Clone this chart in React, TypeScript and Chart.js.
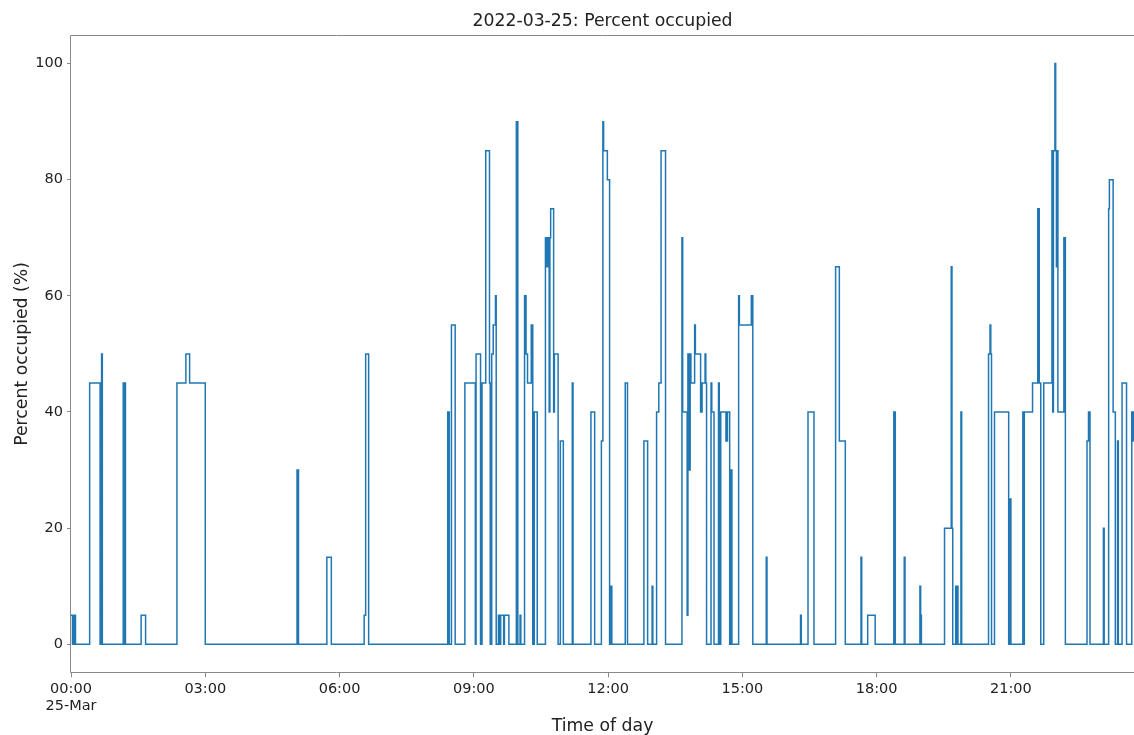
import React, { useEffect, useRef } from "react";
import { Chart, registerables } from "chart.js";

Chart.register(...registerables);

// ---- data ----
const chartTitle = "2022-03-25: Percent occupied";
const xAxisTitle = "Time of day";
const yAxisTitle = "Percent occupied (%)";
const dayLabel = "25-Mar";

// times at which the occupancy level changes, and the level from that time on
const times = [
  "00:00", "00:02", "00:04", "00:06", "00:25", "00:39", "00:41", "00:42", "01:10", "01:11", "01:12", "01:13", "01:34", "01:40", "02:22", "02:34", "02:39", "03:00",
  "05:03", "05:05", "05:43", "05:49", "06:33", "06:35", "06:39", "08:25", "08:27", "08:30", "08:35",
  "08:48", "09:02", "09:03", "09:09", "09:11", "09:16", "09:21", "09:22", "09:24", "09:26", "09:29", "09:30", "09:33", "09:35", "09:36", "09:40", "09:41", "09:47", "09:57", "09:59",
  "10:02", "10:03", "10:08", "10:10", "10:12", "10:17", "10:19", "10:21", "10:25", "10:36", "10:38", "10:40", "10:41", "10:42", "10:43", "10:47", "10:48", "10:53", "10:56",
  "11:00", "11:12", "11:13", "11:37", "11:42", "11:51", "11:53", "11:54", "11:59", "12:02", "12:04", "12:05", "12:23", "12:26", "12:48", "12:53", "12:59",
  "13:00", "13:05", "13:08", "13:11", "13:17", "13:39", "13:40", "13:46", "13:47", "13:48", "13:49", "13:50", "13:51", "13:56", "13:57",
  "14:04", "14:06", "14:10", "14:11", "14:12", "14:18", "14:19", "14:22", "14:28", "14:29", "14:31", "14:38", "14:40", "14:43", "14:45", "14:46", "14:55", "14:56",
  "15:12", "15:14", "15:32", "15:33", "16:18", "16:19", "16:28", "16:36", "17:05", "17:10", "17:18", "17:39", "17:40", "17:48", "17:58",
  "18:23", "18:25", "18:37", "18:38", "18:58", "18:59", "19:00", "19:31", "19:40", "19:41", "19:42", "19:46", "19:47", "19:48", "19:49", "19:53", "19:54", "20:30", "20:32", "20:33", "20:34", "20:38", "20:57", "20:59",
  "21:00", "21:16", "21:17", "21:18", "21:29", "21:36", "21:38", "21:40", "21:44", "21:55", "21:56", "21:57", "21:59", "22:00", "22:01", "22:02", "22:03", "22:11", "22:13", "22:42", "22:44", "22:46",
  "23:04", "23:05", "23:11", "23:12", "23:17", "23:20", "23:23", "23:24", "23:29", "23:35", "23:42", "23:44", "23:59",
];

const values = [
  5, 0, 5, 0, 45, 0, 50, 0, 45, 0, 45, 0, 5, 0, 45, 50, 45, 0,
  30, 0, 15, 0, 5, 50, 0, 40, 0, 55, 0,
  45, 0, 50, 0, 45, 85, 45, 0, 50, 55, 60, 0, 5, 0, 5, 0, 5, 0, 90, 0,
  5, 0, 60, 50, 45, 55, 0, 40, 0, 70, 65, 70, 40, 70, 75, 40, 50, 0, 35,
  0, 45, 0, 40, 0, 35, 90, 85, 80, 0, 10, 0, 45, 0, 35, 0, 10,
  0, 40, 45, 85, 0, 70, 40, 5, 50, 40, 30, 50, 45, 55, 50,
  40, 45, 50, 45, 0, 45, 40, 0, 45, 0, 40, 35, 40, 0, 30, 0, 60, 55,
  60, 0, 15, 0, 5, 0, 40, 0, 65, 35, 0, 15, 0, 5, 0,
  40, 0, 15, 0, 10, 5, 0, 20, 65, 20, 0, 10, 0, 10, 0, 40, 0, 50, 55, 50, 0, 40, 0, 25,
  0, 40, 0, 40, 45, 75, 45, 0, 45, 85, 40, 85, 100, 85, 65, 85, 40, 70, 0, 35, 40, 0,
  20, 0, 75, 80, 40, 0, 35, 0, 45, 0, 40, 35, 35,
];

const xTickTimes = ["00:00", "03:00", "06:00", "09:00", "12:00", "15:00", "18:00", "21:00"];
const yTickValues = [0, 20, 40, 60, 80, 100];
// visible window of the day (the reference image is cut at about 23:45)
const xRange = ["00:00", "23:45"];
const yRange = [-5, 105];

const toMinutes = (t: string) => {
  const [h, m] = t.split(":").map(Number);
  return h * 60 + m;
};
const fmt = (v: number) => {
  const h = Math.floor(v / 60);
  const m = Math.round(v % 60);
  return String(h).padStart(2, "0") + ":" + String(m).padStart(2, "0");
};

const FONT = "'DejaVu Sans', 'Liberation Sans', sans-serif";
const SPINE = "#888888";

// axes frame (matplotlib-style spines); the right spine lies beyond the visible page
const framePlugin = {
  id: "frame",
  afterDraw(chart: any) {
    const { ctx, chartArea } = chart;
    const l = Math.round(chartArea.left) - 0.5;
    const t = Math.round(chartArea.top) + 0.5;
    const r = Math.round(chartArea.right) + 1;
    const b = Math.round(chartArea.bottom) - 0.5;
    ctx.save();
    ctx.strokeStyle = SPINE;
    ctx.lineWidth = 1;
    ctx.beginPath();
    ctx.moveTo(r, t);
    ctx.lineTo(l, t);
    ctx.lineTo(l, b);
    ctx.lineTo(r, b);
    ctx.stroke();
    ctx.restore();
  },
};

export default function App() {
  const canvasRef = useRef<HTMLCanvasElement | null>(null);

  useEffect(() => {
    if (!canvasRef.current) return;
    const points = times.map((t, i) => ({ x: toMinutes(t), y: values[i] }));
    const chart = new Chart(canvasRef.current, {
      type: "line",
      data: {
        datasets: [
          {
            data: points,
            borderColor: "#1f77b4",
            borderWidth: 1.5,
            pointRadius: 0,
            stepped: true,
            fill: false,
            tension: 0,
          },
        ],
      },
      plugins: [framePlugin],
      options: {
        animation: false,
        responsive: false,
        layout: { padding: { left: 0, right: 0, top: 0, bottom: 0 } },
        plugins: {
          legend: { display: false },
          tooltip: { enabled: false },
          title: {
            display: true,
            fullSize: false,
            text: chartTitle,
            color: "#222",
            font: { family: FONT, size: 17.3, weight: "normal" },
            padding: { top: 11.6, bottom: 2.2 },
          },
        },
        scales: {
          x: {
            type: "linear",
            min: toMinutes(xRange[0]),
            max: toMinutes(xRange[1]),
            afterBuildTicks: (scale: any) => {
              scale.ticks = xTickTimes.map((t) => ({ value: toMinutes(t) }));
            },
            afterFit: (scale: any) => {
              scale.height = 61.7;
            },
            border: { display: false },
            grid: {
              display: true,
              drawOnChartArea: false,
              drawTicks: true,
              tickLength: 4,
              tickColor: SPINE,
              tickWidth: 1,
            },
            ticks: {
              autoSkip: false,
              maxRotation: 0,
              padding: 3,
              color: "#222",
              font: { family: FONT, size: 14.5 },
              callback: (v: any) => (Number(v) === 0 ? [fmt(0), dayLabel] : fmt(Number(v))),
            },
            title: {
              display: true,
              text: xAxisTitle,
              color: "#222",
              font: { family: FONT, size: 17.3 },
              padding: { top: 0, bottom: -1.5 },
            },
          },
          y: {
            type: "linear",
            min: yRange[0],
            max: yRange[1],
            afterBuildTicks: (scale: any) => {
              scale.ticks = yTickValues.map((v) => ({ value: v }));
            },
            afterFit: (scale: any) => {
              scale.width = 71;
            },
            border: { display: false },
            grid: {
              display: true,
              drawOnChartArea: false,
              drawTicks: true,
              tickLength: 4,
              tickColor: SPINE,
              tickWidth: 1,
            },
            ticks: {
              padding: 4,
              color: "#222",
              font: { family: FONT, size: 14.5 },
            },
            title: {
              display: true,
              text: yAxisTitle,
              color: "#222",
              font: { family: FONT, size: 17.3 },
              padding: { top: 12.4, bottom: 0 },
            },
          },
        },
      },
    });
    return () => chart.destroy();
  }, []);

  return (
    <div
      style={{
        position: "fixed",
        left: 0,
        top: 0,
        width: 1134,
        height: 735,
        overflow: "hidden",
        background: "#fff",
      }}
    >
      <canvas ref={canvasRef} width={1134} height={735} style={{ display: "block" }} />
    </div>
  );
}
